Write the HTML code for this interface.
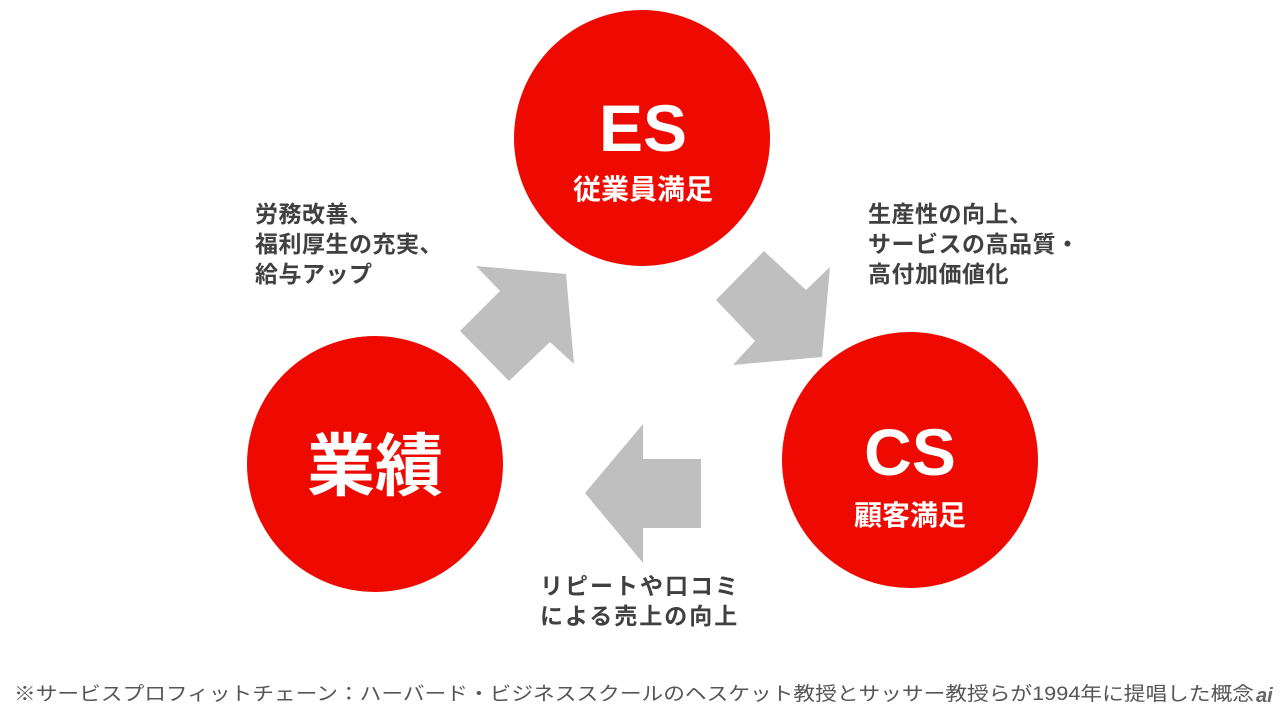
<!DOCTYPE html>
<html><head><meta charset="utf-8"><style>
html,body{margin:0;padding:0;background:#fff;}
svg{display:block;font-family:"Liberation Sans","Noto Sans CJK JP",sans-serif;}
</style></head><body>
<svg width="1280" height="714" viewBox="0 0 1280 714" xmlns="http://www.w3.org/2000/svg">
<rect width="1280" height="714" fill="#fff"/>
<circle cx="642" cy="138" r="128" fill="#ee0a00"/>
<circle cx="910" cy="460" r="128" fill="#ee0a00"/>
<circle cx="375" cy="464" r="128" fill="#ee0a00"/>
<polygon points="476,266 566,274 574,364 550,342 509,381 460,331 500,291" fill="#bfbfbf"/>
<polygon points="764,251 806,290 830,267 822,357 733,365 755,341 716,300" fill="#bfbfbf"/>
<polygon points="585,493 643,424 643,459 701,459 701,528 643,528 643,563" fill="#bfbfbf"/>
<g fill="#fff" font-weight="bold" text-anchor="middle">
<text x="643" y="151" font-size="66">ES</text>
<text x="643" y="199" font-size="28">従業員満足</text>
<text x="910" y="475" font-size="66">CS</text>
<text x="910" y="525" font-size="28">顧客満足</text>
<text x="375" y="490" font-size="68">業績</text>
</g>
<g fill="#404040" font-weight="bold" font-size="23" letter-spacing="0.5">
<text x="255" y="222">労務改善、</text>
<text x="255" y="252">福利厚生の充実、</text>
<text x="255" y="282">給与アップ</text>
<text x="868" y="222">生産性の向上、</text>
<text x="868" y="252">サービスの高品質・</text>
<text x="868" y="282">高付加価値化</text>
<text x="540" y="594" letter-spacing="2">リピートや口コミ</text>
<text x="540" y="624" letter-spacing="2">による売上の向上</text>
</g>
<text x="14" y="700" font-size="19" fill="#555" textLength="1240" lengthAdjust="spacingAndGlyphs">※サービスプロフィットチェーン：ハーバード・ビジネススクールのヘスケット教授とサッサー教授らが1994年に提唱した概念</text>
<text x="1256" y="702" font-size="20" fill="#666" font-style="italic" font-weight="bold">ai</text>
</svg>
</body></html>
